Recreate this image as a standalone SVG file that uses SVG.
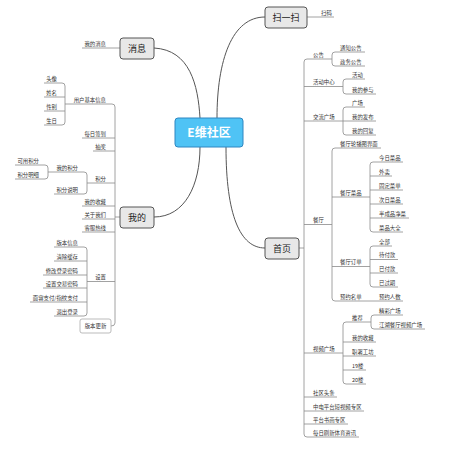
<svg xmlns="http://www.w3.org/2000/svg" width="462" height="453" viewBox="0 0 462 453">
<style>
text{font-family:"Noto Sans CJK SC","Noto Sans",sans-serif;fill:#333}
.t{font-size:5.4px}
.l{text-anchor:end}
.m{font-size:9px;text-anchor:middle;fill:#222}
.c{font-size:12px;font-weight:bold;text-anchor:middle;fill:#fff}
.ln{fill:none;stroke:#8a8a8a;stroke-width:0.8}
.cv{fill:none;stroke:#555;stroke-width:1}
.box{fill:#e8e8e8;stroke:#555;stroke-width:1}
</style>
<rect width="462" height="453" fill="#fff"/>
<g id="connectors">
<path class="cv" d="M217,118 C217,60 232,17 265,17"/>
<path class="cv" d="M154,48 C190,50 198,85 200,118"/>
<path class="cv" d="M154,217 C185,217 200,185 200,147"/>
<path class="cv" d="M226,147 C226,215 240,248 265,248"/>
<path class="ln" d="M307,17 H334"/>
<path class="ln" d="M120,48 H82"/>
<!-- left trunk -->
<path class="ln" d="M120,217 H115"/>
<path class="ln" d="M65,104 H112 Q115,104 115,107 V323 Q115,326 111,326"/>
<path class="ln" d="M82,138 H115 M93,151 H115 M87,183 H115 M82,206 H115 M82,219 H115 M82,232 H115 M87,281.5 H115"/>
<path class="ln" d="M44,83 H62 Q65,83 65,86 V122 Q65,125 62,125 H44 M44,97 H65 M44,111 H65"/>
<path class="ln" d="M48,172 H84 Q87,172 87,175 V191 Q87,194 84,194 H54"/>
<path class="ln" d="M15,165 H45 Q48,165 48,168 V176 Q48,179 45,179 H15"/>
<path class="ln" d="M54,247 H84 Q87,247 87,250 V313 Q87,316 84,316 H54 M54,261 H87 M43,275 H87 M43,288 H87 M30,302 H87"/>
<!-- right trunk -->
<path class="ln" d="M299,248 H304"/>
<path class="ln" d="M332,59 H307 Q304,59 304,62 V434 Q304,437 307,437 H359"/>
<path class="ln" d="M304,86.5 H343 M304,121 H343 M304,224.5 H332 M304,353 H343 M304,397 H337 M304,411 H364 M304,424 H348"/>
<path class="ln" d="M365,52 H335 Q332,52 332,55 V63 Q332,66 335,66 H365"/>
<path class="ln" d="M365,79 H346 Q343,79 343,82 V91 Q343,94 346,94 H376"/>
<path class="ln" d="M365,107 H346 Q343,107 343,110 V132 Q343,135 346,135 H376 M343,121 H376"/>
<path class="ln" d="M381,148 H335 Q332,148 332,151 V298 Q332,301 335,301 H403 M332,197 H370 M332,266.5 H370"/>
<path class="ln" d="M403,162 H373 Q370,162 370,165 V229 Q370,232 373,232 H403 M370,176 H392 M370,190 H403 M370,204 H403 M370,218 H409"/>
<path class="ln" d="M392,246 H373 Q370,246 370,249 V284 Q370,287 373,287 H398 M370,259.5 H398 M370,273 H398"/>
<path class="ln" d="M371,322 H346 Q343,322 343,325 V381 Q343,384 346,384 H366 M343,342 H376 M343,356 H376 M343,370 H366"/>
<path class="ln" d="M403,315 H374 Q371,315 371,318 V326 Q371,329 374,329 H425"/>
</g>
<g id="center"><rect x="175" y="118" width="68" height="29" rx="3" fill="#4FC3F5" stroke="#2E86C1" stroke-width="1"/><text class="c" x="209" y="137">E维社区</text></g>
<g id="saoyisao"><rect class="box" x="265" y="7" width="42" height="21" rx="3"/><text class="m" x="286" y="20.5">扫一扫</text></g>
<g id="xiaoxi"><rect class="box" x="120" y="38" width="34" height="21" rx="3"/><text class="m" x="137" y="51.5">消息</text></g>
<g id="wode"><rect class="box" x="120" y="207" width="34" height="21" rx="3"/><text class="m" x="137" y="220.5">我的</text></g>
<g id="shouye"><rect class="box" x="265" y="238" width="34" height="21" rx="3"/><text class="m" x="282" y="251.5">首页</text></g>
<g id="saoma"><text class="t" x="321" y="14.5">扫码</text></g>
<g id="wodexiaoxi"><text class="t l" x="106" y="45.5">我的消息</text></g>
<g id="left-labels">
<g id="yonghu"><text class="t l" x="106" y="101.5">用户基本信息</text></g>
<g id="touxiang"><text class="t l" x="57" y="80.5">头像</text></g>
<g id="xingming"><text class="t l" x="57" y="94.5">姓名</text></g>
<g id="xingbie"><text class="t l" x="57" y="108.5">性别</text></g>
<g id="shengri"><text class="t l" x="57" y="122.5">生日</text></g>
<g id="qiandao"><text class="t l" x="106" y="135.5">每日签到</text></g>
<g id="choujiang"><text class="t l" x="106" y="148.5">抽奖</text></g>
<g id="jifen"><text class="t l" x="106" y="180.5">积分</text></g>
<g id="wodejifen"><text class="t l" x="78" y="169.5">我的积分</text></g>
<g id="jifenshuoming"><text class="t l" x="78" y="191.5">积分说明</text></g>
<g id="keyong"><text class="t l" x="39" y="162.5">可用积分</text></g>
<g id="mingxi"><text class="t l" x="39" y="176.5">积分明细</text></g>
<g id="shoucang"><text class="t l" x="106" y="203.5">我的收藏</text></g>
<g id="guanyu"><text class="t l" x="106" y="216.5">关于我们</text></g>
<g id="kefu"><text class="t l" x="106" y="229.5">客服热线</text></g>
<g id="shezhi"><text class="t l" x="106" y="279">设置</text></g>
<g id="banbenxinxi"><text class="t l" x="78" y="244.5">版本信息</text></g>
<g id="qingchu"><text class="t l" x="78" y="258.5">清除缓存</text></g>
<g id="xiugai"><text class="t l" x="78" y="272.5">修改登录密码</text></g>
<g id="jiaoyi"><text class="t l" x="78" y="285.5">设置交易密码</text></g>
<g id="zhifu"><text class="t l" x="78" y="299.5">面容支付/指纹支付</text></g>
<g id="tuichu"><text class="t l" x="78" y="313.5">退出登录</text></g>
<g id="gengxin"><rect x="80" y="319" width="31" height="14" rx="2" fill="#fff" stroke="#aaa" stroke-width="0.8"/><text class="t" x="95.5" y="328" text-anchor="middle">版本更新</text></g>
</g>
<g id="right-labels">
<g id="gonggao"><text class="t" x="313" y="56.5">公告</text></g>
<g id="tongzhi"><text class="t" x="340" y="49.5">通知公告</text></g>
<g id="zhengwu"><text class="t" x="340" y="63.5">政务公告</text></g>
<g id="huodongzhongxin"><text class="t" x="313" y="84">活动中心</text></g>
<g id="huodong"><text class="t" x="352" y="76.5">活动</text></g>
<g id="canyu"><text class="t" x="352" y="91.5">我的参与</text></g>
<g id="jiaoliu"><text class="t" x="313" y="118.5">交流广场</text></g>
<g id="guangchang"><text class="t" x="352" y="104.5">广场</text></g>
<g id="fabu"><text class="t" x="352" y="118.5">我的发布</text></g>
<g id="huifu"><text class="t" x="352" y="132.5">我的回复</text></g>
<g id="canting"><text class="t" x="313" y="222">餐厅</text></g>
<g id="lunbo"><text class="t" x="340" y="145.5">餐厅轮播图界面</text></g>
<g id="caipin"><text class="t" x="340" y="194.5">餐厅菜品</text></g>
<g id="jinri"><text class="t" x="379" y="159.5">今日菜品</text></g>
<g id="waimai"><text class="t" x="379" y="173.5">外卖</text></g>
<g id="guding"><text class="t" x="379" y="187.5">固定菜单</text></g>
<g id="ciri"><text class="t" x="379" y="201.5">次日菜品</text></g>
<g id="banchengpin"><text class="t" x="379" y="215.5">半成品净菜</text></g>
<g id="daquan"><text class="t" x="379" y="229.5">菜品大全</text></g>
<g id="dingdan"><text class="t" x="340" y="264">餐厅订单</text></g>
<g id="quanbu"><text class="t" x="379" y="243.5">全部</text></g>
<g id="daifukuan"><text class="t" x="379" y="257">待付款</text></g>
<g id="yifukuan"><text class="t" x="379" y="270.5">已付款</text></g>
<g id="yiguoqi"><text class="t" x="379" y="284.5">已过期</text></g>
<g id="yuyue"><text class="t" x="340" y="298.5">预约名单</text></g>
<g id="yuyuerenshu"><text class="t" x="379" y="298.5">预约人数</text></g>
<g id="shipin"><text class="t" x="313" y="350.5">视频广场</text></g>
<g id="tuijian"><text class="t" x="352" y="319.5">推荐</text></g>
<g id="jingcai"><text class="t" x="379" y="312.5">精彩广场</text></g>
<g id="jianghu"><text class="t" x="379" y="326.5">江湖餐厅视频广场</text></g>
<g id="shipinshoucang"><text class="t" x="352" y="339.5">我的收藏</text></g>
<g id="gongfang"><text class="t" x="352" y="353.5">职署工坊</text></g>
<g id="lou19"><text class="t" x="352" y="367.5">19楼</text></g>
<g id="lou20"><text class="t" x="352" y="381.5">20楼</text></g>
<g id="toutiao"><text class="t" x="313" y="394.5">社区头条</text></g>
<g id="zhongdian"><text class="t" x="313" y="408.5">中电平台短视频专区</text></g>
<g id="shuhua"><text class="t" x="313" y="421.5">平台书画专区</text></g>
<g id="tiyu"><text class="t" x="313" y="434.5">每日刷新体育资讯</text></g>
</g>
</svg>
